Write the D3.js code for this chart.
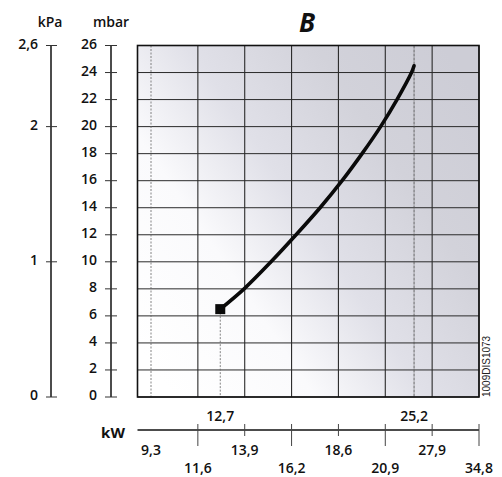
<!DOCTYPE html>
<html><head><meta charset="utf-8">
<script src="https://cdn.jsdelivr.net/npm/d3@7/dist/d3.min.js"></script>
<style>body{margin:0;background:#fff}svg{display:block}</style>
</head><body>
<svg id="c" width="502" height="477"></svg>
<script>
// ---- data ----
const mbarTicks = [0,2,4,6,8,10,12,14,16,18,20,22,24,26];
const kpaTicks = [0,1,2,2.6];
const kwBottom = [9.3, 11.6, 13.9, 16.2, 18.6, 20.9, 27.9, 34.8];
const kwTop = [12.7, 25.2];
const curveKw   = [12.7, 13.87, 15.19, 16.43, 17.66, 18.78, 19.76, 20.67, 22.65, 24.82, 25.2];
const curveMbar = [6.5,  8,     10,    12,    14,    16,    18,    20,    22,    24,    24.5];
const title = "B";
const docCode = "1009DIS1073";

// ---- layout ----
const L = 137.5, R = 479, T = 45.5, B = 397;
const X0 = 151; // position of first kW tick
const step = (R - X0) / (kwBottom.length - 1);
const fmt = d => String(d).replace('.', ',');
const FONT = "'Open Sans', 'Noto Sans', sans-serif";
const FW = 600;

const svg = d3.select('#c');
const y = d3.scaleLinear().domain([0, 26]).range([B, T]);
const yk = d3.scaleLinear().domain([0, 2.6]).range([B, T]);
const x = d3.scaleLinear().domain(kwBottom).range(kwBottom.map((d, i) => X0 + i * step));

// background gradient
const defs = svg.append('defs');
const g1 = defs.append('linearGradient').attr('id', 'bg')
  .attr('x1', 0).attr('y1', 0.85).attr('x2', 1).attr('y2', 0.15);
[[0, '#ffffff'], [0.28, '#fafafc'], [0.5, '#e0e0e8'], [0.75, '#d2d2da'], [1, '#cdcdd6']]
  .forEach(([o, c]) => g1.append('stop').attr('offset', o).attr('stop-color', c));
svg.append('rect').attr('x', L).attr('y', T).attr('width', R - L).attr('height', B - T)
  .attr('fill', 'url(#bg)');

// horizontal grid
svg.append('g').selectAll('line').data(mbarTicks).join('line')
  .attr('x1', L).attr('x2', R).attr('y1', d => y(d)).attr('y2', d => y(d))
  .attr('stroke', '#2a2a2a').attr('stroke-width', 1);

// vertical grid (major)
svg.append('g').selectAll('line').data(kwBottom.slice(1)).join('line')
  .attr('x1', d => x(d)).attr('x2', d => x(d)).attr('y1', T).attr('y2', B)
  .attr('stroke', '#2a2a2a').attr('stroke-width', 1.1);
// minor lines
svg.append('line').attr('x1', x(kwBottom[0])).attr('x2', x(kwBottom[0])).attr('y1', T).attr('y2', B)
  .attr('stroke', '#666').attr('stroke-width', 0.8).attr('stroke-dasharray', '2,1.5');
svg.append('line').attr('x1', x(kwTop[1])).attr('x2', x(kwTop[1])).attr('y1', T).attr('y2', B)
  .attr('stroke', '#555').attr('stroke-width', 0.9).attr('stroke-dasharray', '3,1');
svg.append('line').attr('x1', x(kwTop[0])).attr('x2', x(kwTop[0]))
  .attr('y1', y(curveMbar[0])).attr('y2', B)
  .attr('stroke', '#666').attr('stroke-width', 0.8).attr('stroke-dasharray', '2,1.5');

// plot border
svg.append('rect').attr('x', L).attr('y', T).attr('width', R - L).attr('height', B - T)
  .attr('fill', 'none').attr('stroke', '#111').attr('stroke-width', 1.6);

// curve
const pts = curveKw.map((k, i) => [k, curveMbar[i]]);
svg.append('path').datum(pts)
  .attr('d', d3.line().x(d => x(d[0])).y(d => y(d[1])).curve(d3.curveCatmullRom.alpha(0.5)))
  .attr('fill', 'none').attr('stroke', '#0a0a0a').attr('stroke-width', 3.6)
  .attr('stroke-linecap', 'round');
svg.append('rect').attr('x', x(pts[0][0]) - 5).attr('y', y(pts[0][1]) - 5)
  .attr('width', 10).attr('height', 10).attr('fill', '#0a0a0a');

// title
svg.append('text').attr('x', 307).attr('y', 32).attr('text-anchor', 'middle')
  .attr('font-family', FONT).attr('font-weight', 'bold').attr('font-style', 'italic')
  .attr('font-size', 26).attr('fill', '#111').text(title);

// mbar axis
const gm = svg.append('g');
gm.append('line').attr('x1', 111).attr('x2', 111).attr('y1', T).attr('y2', B)
  .attr('stroke', '#111').attr('stroke-width', 1.5);
gm.selectAll('line.t').data(mbarTicks).join('line').attr('class', 't')
  .attr('x1', 105).attr('x2', 117).attr('y1', d => y(d)).attr('y2', d => y(d))
  .attr('stroke', '#333').attr('stroke-width', 1);
gm.selectAll('text').data(mbarTicks).join('text')
  .attr('x', 97).attr('y', d => y(d) + 3).attr('text-anchor', 'end')
  .attr('font-family', FONT).attr('font-weight', FW).attr('font-size', 14).attr('fill', '#111').text(fmt);
svg.append('text').attr('x', 111).attr('y', 27).attr('text-anchor', 'middle')
  .attr('font-family', FONT).attr('font-weight', FW).attr('font-size', 14).attr('fill', '#111').text('mbar');

// kPa axis
const gk = svg.append('g');
gk.append('line').attr('x1', 51).attr('x2', 51).attr('y1', T).attr('y2', B)
  .attr('stroke', '#111').attr('stroke-width', 1.5);
gk.selectAll('line.t').data(kpaTicks).join('line').attr('class', 't')
  .attr('x1', 46).attr('x2', 57).attr('y1', d => yk(d)).attr('y2', d => yk(d))
  .attr('stroke', '#333').attr('stroke-width', 1);
gk.selectAll('text').data(kpaTicks).join('text')
  .attr('x', 38).attr('y', d => yk(d) + 3).attr('text-anchor', 'end')
  .attr('font-family', FONT).attr('font-weight', FW).attr('font-size', 14).attr('fill', '#111').text(fmt);
svg.append('text').attr('x', 50).attr('y', 27).attr('text-anchor', 'middle')
  .attr('font-family', FONT).attr('font-weight', FW).attr('font-size', 14).attr('fill', '#111').text('kPa');

// kW axis
const AX = 430;
const gx = svg.append('g');
gx.append('line').attr('x1', L).attr('x2', R).attr('y1', AX).attr('y2', AX)
  .attr('stroke', '#111').attr('stroke-width', 1.6);
gx.selectAll('line.t').data(kwBottom.slice(1)).join('line').attr('class', 't')
  .attr('x1', d => x(d)).attr('x2', d => x(d))
  .attr('y1', 424).attr('y2', (d, i) => (i % 2 === 0) ? 446 : 436)
  .attr('stroke', '#444').attr('stroke-width', 1);
gx.selectAll('text.b').data(kwBottom).join('text').attr('class', 'b')
  .attr('x', d => x(d)).attr('y', (d, i) => (i % 2 === 0) ? 455 : 473)
  .attr('text-anchor', 'middle')
  .attr('font-family', FONT).attr('font-weight', FW).attr('font-size', 14).attr('fill', '#111').text(fmt);
gx.selectAll('text.tp').data(kwTop).join('text').attr('class', 'tp')
  .attr('x', d => x(d)).attr('y', 421).attr('text-anchor', 'middle')
  .attr('font-family', FONT).attr('font-weight', FW).attr('font-size', 14).attr('fill', '#111').text(fmt);
svg.append('text').attr('x', 113).attr('y', 438).attr('text-anchor', 'middle')
  .attr('font-family', FONT).attr('font-size', 15).attr('font-weight', 700)
  .attr('fill', '#111').text('kW');

// document code
svg.append('text').attr('transform', 'translate(490,397) rotate(-90)')
  .attr('font-family', "'Liberation Sans', Arial, sans-serif").attr('font-size', 10)
  .attr('fill', '#222').text(docCode);
</script>
</body></html>
